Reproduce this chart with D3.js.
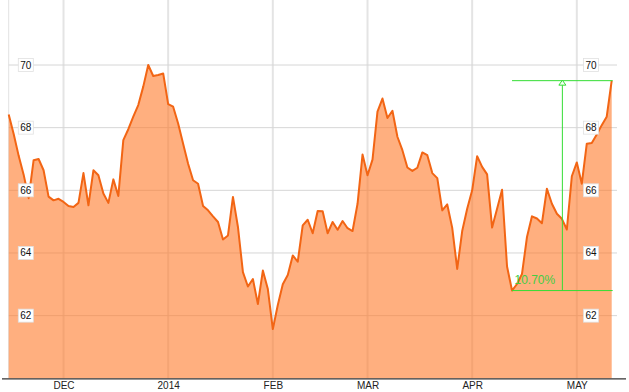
<!DOCTYPE html>
<html>
<head>
<meta charset="utf-8">
<script src="https://cdn.jsdelivr.net/npm/d3@7"></script>
<style>
  body { margin: 0; background: #fff; }
  svg { display: block; font-family: Arial, "Liberation Sans", sans-serif; }
</style>
</head>
<body>
<script>
// daily closes, Nov 2013 - May 2014 (one per trading day)
var values = [
  68.42, 67.8, 67.1, 66.5, 65.75, 66.96, 67.0, 66.64, 65.8, 65.68,
  65.73, 65.63, 65.5, 65.47, 65.6, 66.55, 65.52, 66.64, 66.48, 65.9,
  65.6, 66.35, 65.82, 67.6, 67.95, 68.35, 68.72, 69.31, 70.0, 69.65,
  69.68, 69.73, 68.75, 68.67, 68.13, 67.49, 66.85, 66.32, 66.21, 65.5,
  65.36, 65.17, 64.99, 64.43, 64.56, 65.79, 64.83, 63.39, 62.93, 63.17,
  62.37, 63.44, 62.85, 61.57, 62.34, 63.0, 63.3, 63.92, 63.72, 64.88,
  65.06, 64.63, 65.34, 65.33, 64.63, 64.99, 64.74, 65.02, 64.79, 64.7,
  65.57, 67.14, 66.48, 66.98, 68.51, 68.93, 68.31, 68.54, 67.71, 67.28,
  66.73, 66.62, 66.72, 67.21, 67.12, 66.55, 66.39, 65.36, 65.55, 64.8,
  63.49, 64.7, 65.41, 66.0, 67.09, 66.75, 66.51, 64.81, 65.41, 66.02,
  63.57, 62.8, 63.01, 63.33, 64.51, 65.17, 65.1, 64.95, 66.05, 65.57,
  65.25, 65.09, 64.75, 66.45, 66.89, 66.21, 67.49, 67.51, 67.78, 68.08,
  68.35, 69.5
];

// first trading day of each month (index into values)
var tickIdx = [11, 32, 53, 72, 93, 114];
var tickLabels = ["DEC", "2014", "FEB", "MAR", "APR", "MAY"];
var yTicks = [62, 64, 66, 68, 70];

// percent-change annotation
var lowIdx = 101;
var changeLabel = "10.70%";

var width = 629, height = 392;
var plotLeft = 8.7, plotRight = 611.7, plotBottom = 378.3;

var svg = d3.select("body")
  .append("svg")
  .attr("width", width)
  .attr("height", height);

var x = d3.scaleLinear().domain([0, values.length - 1]).range([plotLeft, plotRight]);
var y = d3.scaleLinear().domain([60, 70]).range([plotBottom, 65]);

// left border
svg.append("line")
  .attr("x1", plotLeft).attr("x2", plotLeft)
  .attr("y1", 0).attr("y2", plotBottom)
  .attr("stroke", "#e2e2e2").attr("stroke-width", 1);

// vertical grid
svg.selectAll(".vgrid")
  .data(tickIdx)
  .enter().append("line")
  .attr("class", "vgrid")
  .attr("x1", function(d) { return x(d); })
  .attr("x2", function(d) { return x(d); })
  .attr("y1", 0).attr("y2", plotBottom)
  .attr("stroke", "#e4e4e4").attr("stroke-width", 2);

// horizontal grid
svg.selectAll(".hgrid")
  .data(yTicks)
  .enter().append("line")
  .attr("class", "hgrid")
  .attr("x1", plotLeft).attr("x2", 617)
  .attr("y1", function(d) { return y(d); })
  .attr("y2", function(d) { return y(d); })
  .attr("stroke", "#d6d6d6").attr("stroke-width", 1);

var area = d3.area()
  .x(function(d, i) { return x(i); })
  .y0(plotBottom)
  .y1(function(d) { return y(d); });

var line = d3.line()
  .x(function(d, i) { return x(i); })
  .y(function(d) { return y(d); });

svg.append("path")
  .datum(values)
  .attr("d", area)
  .attr("fill", "#ff7a2a")
  .attr("fill-opacity", 0.6);

svg.append("path")
  .datum(values)
  .attr("d", line)
  .attr("fill", "none")
  .attr("stroke", "#f26514")
  .attr("stroke-width", 2)
  .attr("stroke-linejoin", "round");

// bottom axis
var xAxis = d3.axisBottom(x)
  .tickValues(tickIdx)
  .tickFormat(function(d, i) { return tickLabels[i]; })
  .tickSize(0)
  .tickPadding(4);

var gx = svg.append("g")
  .attr("transform", "translate(0," + plotBottom + ")")
  .call(xAxis);
gx.select(".domain").remove();
gx.selectAll("text")
  .attr("font-size", "10px")
  .attr("font-family", "Arial, 'Liberation Sans', sans-serif")
  .attr("fill", "#222");

svg.append("line")
  .attr("x1", 2).attr("x2", 626)
  .attr("y1", plotBottom + 0.5).attr("y2", plotBottom + 0.5)
  .attr("stroke", "#333").attr("stroke-width", 1.2);

// boxed y labels on both sides
[25.8, 591].forEach(function(cx) {
  var g = svg.selectAll(null)
    .data(yTicks)
    .enter().append("g")
    .attr("transform", function(d) { return "translate(" + cx + "," + y(d) + ")"; });
  g.append("rect")
    .attr("x", -7.5).attr("y", -6.5)
    .attr("width", 15).attr("height", 13)
    .attr("fill", "#fff")
    .attr("stroke", "#e0e0e0").attr("stroke-width", 0.8);
  g.append("text")
    .attr("text-anchor", "middle")
    .attr("dy", "0.35em")
    .attr("font-size", "10px")
    .attr("fill", "#111")
    .text(function(d) { return d; });
});

// change annotation
var green = "#33dd33";
var ax1 = x(lowIdx), ax2 = plotRight + 1;
var yLow = y(values[lowIdx]), yHigh = y(values[values.length - 1]);
var axm = (ax1 + ax2) / 2;

svg.append("line")
  .attr("x1", ax1).attr("x2", ax2)
  .attr("y1", yHigh).attr("y2", yHigh)
  .attr("stroke", green).attr("stroke-width", 1);
svg.append("line")
  .attr("x1", ax1).attr("x2", ax2)
  .attr("y1", yLow).attr("y2", yLow)
  .attr("stroke", green).attr("stroke-width", 1);
svg.append("line")
  .attr("x1", axm).attr("x2", axm)
  .attr("y1", yHigh).attr("y2", yLow)
  .attr("stroke", green).attr("stroke-width", 1);
svg.append("path")
  .attr("d", "M" + axm + "," + (yHigh - 0.5) + "L" + (axm + 3.5) + "," + (yHigh + 4.5) +
             "L" + (axm - 3.5) + "," + (yHigh + 4.5) + "Z")
  .attr("fill", "#f4fff4")
  .attr("stroke", green).attr("stroke-width", 1);

svg.append("text")
  .attr("x", ax1 + 2.5)
  .attr("y", yLow - 7)
  .attr("font-size", "12px")
  .attr("fill", "#44cc44")
  .text(changeLabel);
</script>
</body>
</html>
